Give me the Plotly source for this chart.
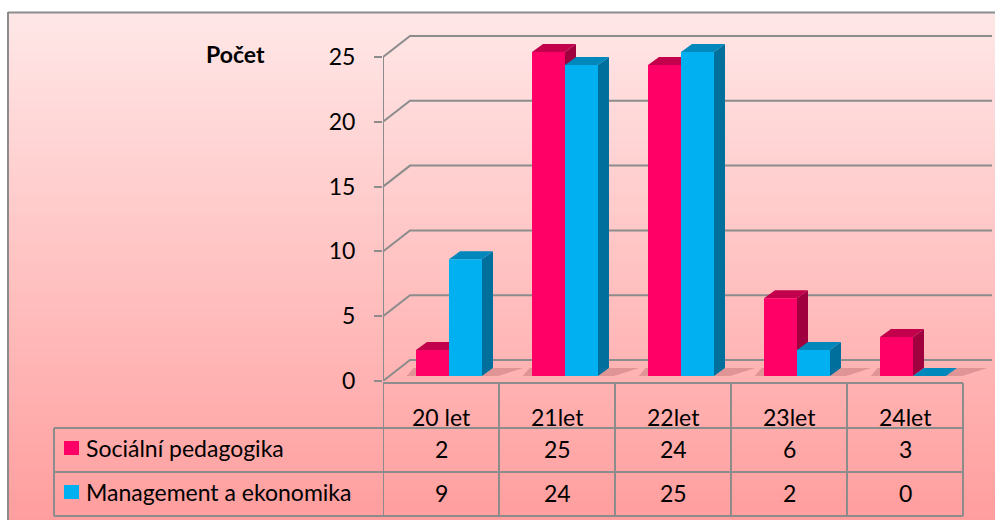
import plotly.graph_objects as go

# ── data ────────────────────────────────────────────────────────────
categories = ["20 let", "21let", "22let", "23let", "24let"]
series_names = ["Sociální pedagogika", "Management a ekonomika"]
socialni = [2, 25, 24, 6, 3]
management = [9, 24, 25, 2, 0]
y_ticks = [0, 5, 10, 15, 20, 25]

# ── style ───────────────────────────────────────────────────────────
W, H = 995, 520
FRONT = ["#FF0066", "#00B0F0"]
TOP = ["#C2004C", "#0087BB"]
SIDE = ["#A0003E", "#006F9B"]
GRID = "#8C8C8C"
FONT = "Lato"
FS = 23


def px(x):
    return x / W


def py(y):
    return 1 - y / H


# pixel geometry of the pseudo-3D plot
X_LEFT, X_RIGHT = 383, 992
Y_ZERO, Y_TOP = 381, 12
UNIT_X, UNIT_Y = 116, 12.96
x_range = [-0.5, -0.5 + (X_RIGHT - X_LEFT) / UNIT_X]
y_range = [0, (Y_ZERO - Y_TOP) / UNIT_Y]

WALL_DX, WALL_DY = 27 / UNIT_X, 21 / UNIT_Y
BAR_DX, BAR_DY = 11 / UNIT_X, 8 / UNIT_Y
SHIFT_X, BASE = 8 / UNIT_X, 5 / UNIT_Y
BAR_W = 33 / UNIT_X

fig = go.Figure()

# back wall gridlines + axis line
gx, gy = [], []
for v in y_ticks:
    gx += [-0.5, -0.5 + WALL_DX, x_range[1], None]
    gy += [v, v + WALL_DY, v + WALL_DY, None]
gx += [-0.5, -0.5]
gy += [0, y_ticks[-1]]
fig.add_trace(go.Scatter(x=gx, y=gy, mode="lines",
                         line=dict(color=GRID, width=2), hoverinfo="skip"))

# floor shadows
sx, sy = [], []
for i in range(len(categories)):
    x1 = i + SHIFT_X + BAR_W
    sx += [x1, x1 + 0.14, x1 + BAR_DX + 0.26, x1 + BAR_DX, x1, None]
    sy += [BASE, BASE, BASE + BAR_DY, BASE + BAR_DY, BASE, None]
    x0 = i + SHIFT_X - BAR_W
    sx += [x0 - 0.08, x0, x0 + BAR_DX, x0 - 0.02, x0 - 0.08, None]
    sy += [BASE, BASE, BASE + BAR_DY, BASE + BAR_DY, BASE, None]
fig.add_trace(go.Scatter(x=sx, y=sy, mode="lines", fill="toself",
                         fillcolor="rgba(120,40,50,0.22)", line=dict(width=0),
                         hoverinfo="skip"))

# 3D bars: side, top, front per series
for s, vals in enumerate([socialni, management]):
    fx, fy, tx, ty, kx, ky = [], [], [], [], [], []
    for i, v in enumerate(vals):
        x0 = i + SHIFT_X - BAR_W if s == 0 else i + SHIFT_X
        x1 = x0 + BAR_W
        top = BASE + v
        fx += [x0, x1, x1, x0, x0, None]
        fy += [BASE, BASE, top, top, BASE, None]
        tx += [x0, x0 + BAR_DX, x1 + BAR_DX, x1, x0, None]
        ty += [top, top + BAR_DY, top + BAR_DY, top, top, None]
        kx += [x1, x1 + BAR_DX, x1 + BAR_DX, x1, x1, None]
        ky += [BASE, BASE + BAR_DY, top + BAR_DY, top, BASE, None]
    for xs, ys, col in [(kx, ky, SIDE[s]), (tx, ty, TOP[s]), (fx, fy, FRONT[s])]:
        fig.add_trace(go.Scatter(x=xs, y=ys, mode="lines", fill="toself",
                                 fillcolor=col, line=dict(width=0),
                                 name=series_names[s], hoverinfo="skip"))

# ── background gradient, border, table ─────────────────────────────
shapes = []
n = 127
top_c, bot_c = (255, 231, 231), (255, 158, 158)
for k in range(n):
    t = k / (n - 1)
    c = tuple(round(a + (b - a) * t) for a, b in zip(top_c, bot_c))
    y0 = Y_TOP + (H - Y_TOP) * k / n
    y1 = Y_TOP + (H - Y_TOP) * (k + 1) / n + 0.5
    shapes.append(dict(type="rect", xref="paper", yref="paper", layer="below",
                       x0=px(8), x1=1, y0=py(y1), y1=py(y0),
                       fillcolor="rgb(%d,%d,%d)" % c, line=dict(width=0)))


def grid_line():
    return dict(color=GRID, width=2)


shapes.append(dict(type="line", xref="paper", yref="paper", x0=px(8), x1=1,
                   y0=py(12.5), y1=py(12.5), line=grid_line()))
shapes.append(dict(type="line", xref="paper", yref="paper", x0=px(8), x1=px(8),
                   y0=py(12), y1=0, line=grid_line()))

# table grid
n_cat = len(categories)
shapes.append(dict(type="line", xref="x", yref="paper", x0=-0.5, x1=n_cat - 0.5,
                   y0=py(383), y1=py(383), line=grid_line()))
for yy in [428, 472, 516]:
    shapes.append(dict(type="line", xref="paper", yref="paper", x0=px(54),
                       x1=px(X_LEFT + UNIT_X * n_cat), y0=py(yy), y1=py(yy),
                       line=grid_line()))
shapes.append(dict(type="line", xref="paper", yref="paper", x0=px(54), x1=px(54),
                   y0=py(428), y1=py(516), line=grid_line()))
for k in range(n_cat + 1):
    shapes.append(dict(type="line", xref="x", yref="paper", x0=k - 0.5, x1=k - 0.5,
                       y0=py(383), y1=py(516), line=grid_line()))

# legend keys
for s, yk in enumerate([441, 485]):
    shapes.append(dict(type="rect", xref="paper", yref="paper",
                       x0=px(64), x1=px(79), y0=py(yk + 14), y1=py(yk),
                       fillcolor=FRONT[s], line=dict(width=0)))

annotations = []
cell = dict(showarrow=False, yref="paper", yanchor="middle", font=dict(size=FS))
for i, c in enumerate(categories):
    annotations.append(dict(x=i, y=py(417), xref="x", xanchor="center", text=c, **cell))
for s, (vals, yy) in enumerate([(socialni, 449), (management, 493)]):
    for i, v in enumerate(vals):
        annotations.append(dict(x=i, y=py(yy), xref="x", xanchor="center",
                                text=str(v), **cell))
    annotations.append(dict(x=px(84), y=py(yy - 1), xref="paper", xanchor="left",
                            text=series_names[s], **cell))
annotations.append(dict(x=px(235), y=py(54), xref="paper", xanchor="center",
                        text="<b>Počet</b>", **cell))

fig.update_layout(
    width=W, height=H, autosize=False,
    margin=dict(l=0, r=0, t=0, b=0, pad=0, autoexpand=False),
    paper_bgcolor="white",
    plot_bgcolor="rgba(0,0,0,0)",
    font=dict(family=FONT, color="black", size=FS),
    showlegend=False,
    shapes=shapes,
    annotations=annotations,
    xaxis=dict(domain=[px(X_LEFT), px(X_RIGHT)], range=x_range, visible=False,
               automargin=False),
    yaxis=dict(domain=[py(Y_ZERO), py(Y_TOP)], range=y_range, automargin=False,
               tickvals=y_ticks, ticks="outside", ticklen=8, tickwidth=2,
               tickcolor=GRID, showgrid=False, zeroline=False, showline=False,
               ticklabelstandoff=14, tickfont=dict(size=FS)),
)

fig.write_html("out.html", config={"displayModeBar": False, "responsive": False},
               post_script="document.body.style.margin='0';")
